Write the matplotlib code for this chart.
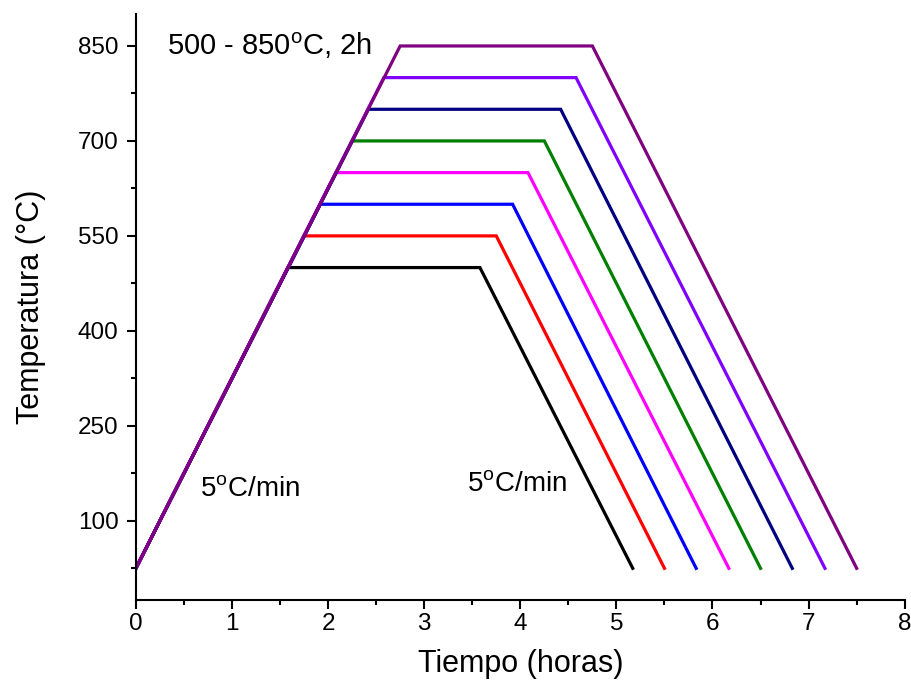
import matplotlib
matplotlib.use("Agg")
import matplotlib.pyplot as plt
from matplotlib.ticker import MultipleLocator

plt.rcParams['font.family'] = ['Liberation Sans', 'DejaVu Sans']

# hold temperatures and breakpoints (hours)
temps = [500, 550, 600, 650, 700, 750, 800, 850]
ramp_end = [1.58, 1.75, 1.92, 2.08, 2.25, 2.42, 2.58, 2.75]
hold_end = [3.58, 3.75, 3.92, 4.08, 4.25, 4.42, 4.58, 4.75]
cool_end = [5.17, 5.50, 5.83, 6.17, 6.50, 6.83, 7.17, 7.50]
t_start = 25
colors = ['black', 'red', 'blue', 'magenta', 'green', 'navy', '#8000FF', 'purple']

fig = plt.figure(figsize=(9.12, 6.81), dpi=100)
ax = fig.add_axes([0.149, 0.119, 0.843, 0.86])

for T, r, h, c, col in zip(temps, ramp_end, hold_end, cool_end, colors):
    ax.plot([0, r, h, c], [t_start, T, T, t_start], color=col, lw=2.3,
            solid_joinstyle='miter')

ax.set_xlim(0, 8)
ax.set_ylim(-25, 900)
ax.xaxis.set_major_locator(MultipleLocator(1))
ax.xaxis.set_minor_locator(MultipleLocator(0.5))
ax.set_yticks([100, 250, 400, 550, 700, 850])
ax.set_yticks([25, 175, 325, 475, 625, 775], minor=True)

for s in ['top', 'right']:
    ax.spines[s].set_visible(False)
for s in ['left', 'bottom']:
    ax.spines[s].set_linewidth(1.5)
ax.tick_params(which='major', direction='out', length=6.5, width=1.5,
               labelsize=17.5)
ax.tick_params(which='minor', direction='out', length=3.5, width=1.5)
ax.tick_params(axis='y', which='major', pad=6)
ax.tick_params(axis='x', which='major', pad=3)

ax.set_xlabel('Tiempo (horas)', fontsize=22, labelpad=10)
ax.set_ylabel('Temperatura (°C)', fontsize=22, labelpad=23)

ax.text(0.32, 850, '500 - 850$^\\mathregular{o}$C, 2h', fontsize=21, va='center')
ax.text(0.67, 149, '5$^\\mathregular{o}$C/min', fontsize=20, va='center')
ax.text(3.45, 156, '5$^\\mathregular{o}$C/min', fontsize=20, va='center')

fig.savefig('out.png', dpi=100)
